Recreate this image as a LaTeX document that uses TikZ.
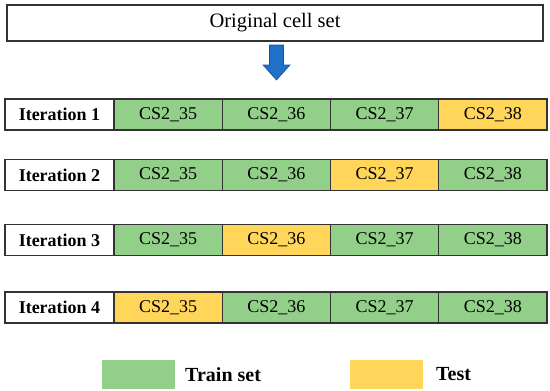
\documentclass[tikz,border=0pt]{standalone}
\usepackage{fontspec}
\setmainfont{Liberation Serif}
\definecolor{trainGreen}{RGB}{146,208,138}
\definecolor{testYellow}{RGB}{255,214,90}
\definecolor{arrowBlue}{RGB}{30,112,200}
\tikzset{
  cellbox/.style={draw=black!80,line width=1.2pt,minimum height=31pt,inner sep=0pt,
    font=\fontsize{18}{20}\selectfont},
  train/.style={cellbox,fill=trainGreen,minimum width=108.25pt},
  test/.style={cellbox,fill=testYellow,minimum width=108.25pt},
  iterbox/.style={cellbox,fill=white,minimum width=109pt,
    font=\fontsize{18}{20}\selectfont\bfseries},
  keybox/.style={minimum width=73pt,minimum height=29pt,inner sep=0pt},
  keytext/.style={anchor=west,inner sep=0pt,font=\fontsize{20}{22}\selectfont\bfseries}
}
\begin{document}
\begin{tikzpicture}[x=1pt,y=-1pt]
\useasboundingbox (0,0) rectangle (550,391);
\node[draw=black!80,line width=1.2pt,minimum width=536pt,minimum height=36pt,
  font=\fontsize{20.5}{22}\selectfont] (orig) at (275,23) {Original cell set};
\filldraw[fill=arrowBlue,draw=arrowBlue!75!black,line width=0.6pt]
  (269.5,45) -- (283.5,45) -- (283.5,65) -- (290,65) -- (276.5,80)
  -- (263,65) -- (269.5,65) -- cycle;
% iteration 1
\node[iterbox] (it1) at (59.5,114.5) {Iteration 1};
\node[train] (it1a) at (168.1,114.5) {CS2\_35};
\node[train] (it1b) at (276.4,114.5) {CS2\_36};
\node[train] (it1c) at (384.6,114.5) {CS2\_37};
\node[test] (it1d) at (492.9,114.5) {CS2\_38};
% iteration 2
\node[iterbox] (it2) at (59.5,175) {Iteration 2};
\node[train] (it2a) at (168.1,175) {CS2\_35};
\node[train] (it2b) at (276.4,175) {CS2\_36};
\node[test] (it2c) at (384.6,175) {CS2\_37};
\node[train] (it2d) at (492.9,175) {CS2\_38};
% iteration 3
\node[iterbox] (it3) at (59.5,240) {Iteration 3};
\node[train] (it3a) at (168.1,240) {CS2\_35};
\node[test] (it3b) at (276.4,240) {CS2\_36};
\node[train] (it3c) at (384.6,240) {CS2\_37};
\node[train] (it3d) at (492.9,240) {CS2\_38};
% iteration 4
\node[iterbox] (it4) at (59.5,307.5) {Iteration 4};
\node[test] (it4a) at (168.1,307.5) {CS2\_35};
\node[train] (it4b) at (276.4,307.5) {CS2\_36};
\node[train] (it4c) at (384.6,307.5) {CS2\_37};
\node[train] (it4d) at (492.9,307.5) {CS2\_38};
% legend
\node[keybox,fill=trainGreen] (trainkey) at (138.5,374.5) {};
\node[keytext] (trainlbl) at (185,374.5) {Train set};
\node[keybox,fill=testYellow] (testkey) at (386,374.5) {};
\node[keytext] (testlbl) at (436,374.5) {Test};
\end{tikzpicture}
\end{document}
